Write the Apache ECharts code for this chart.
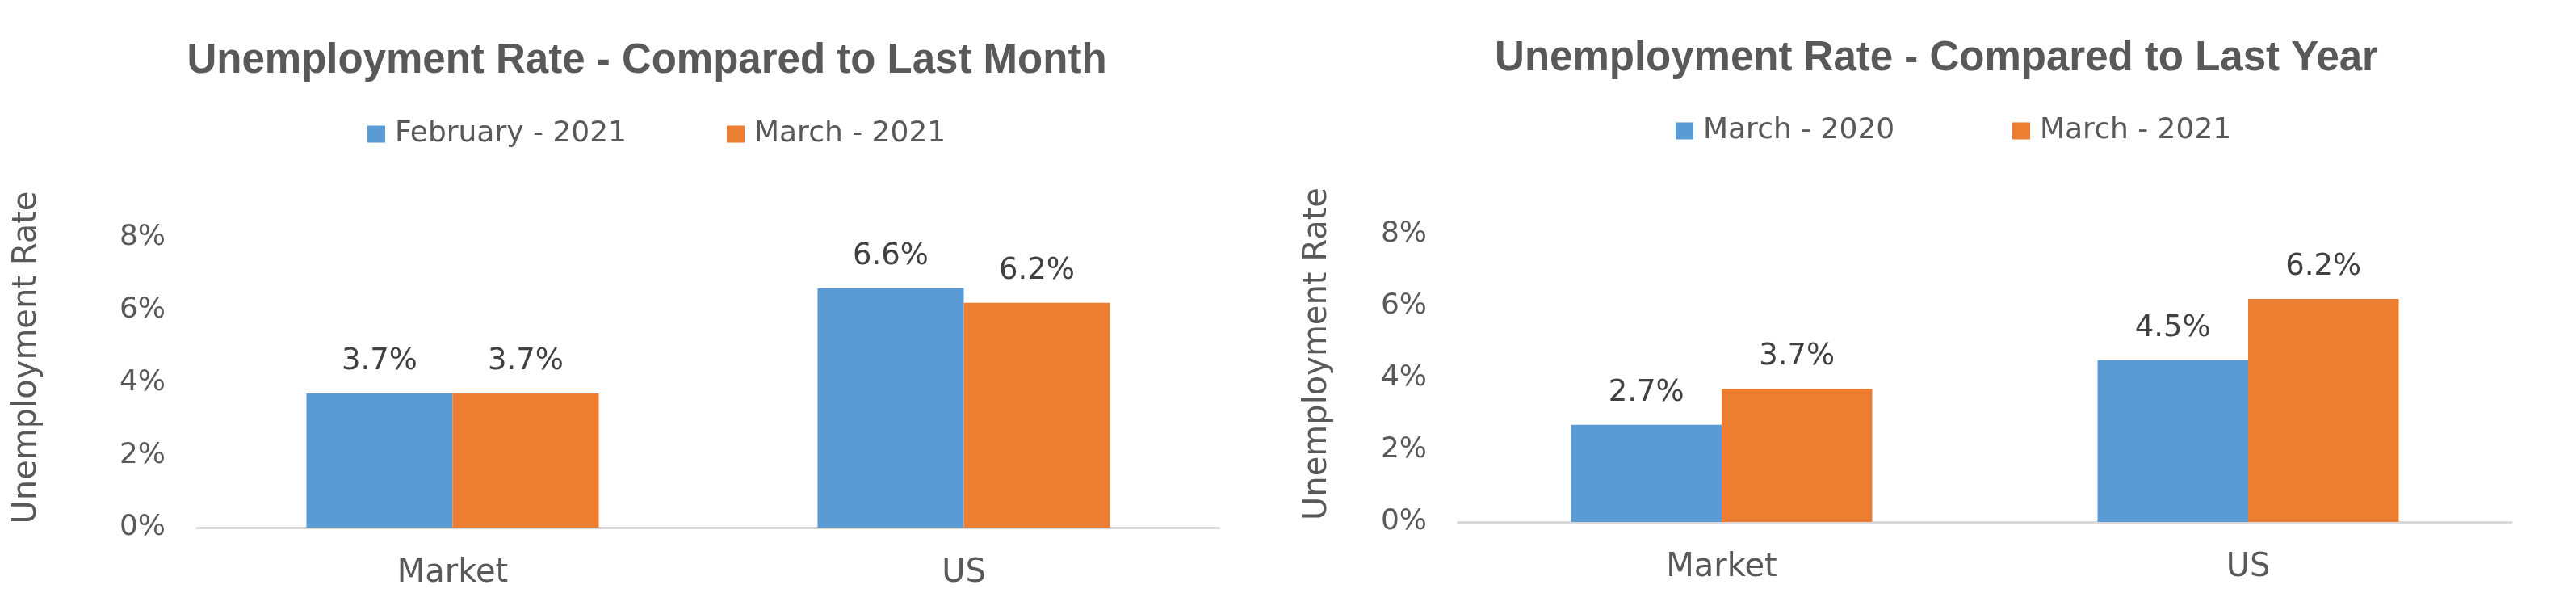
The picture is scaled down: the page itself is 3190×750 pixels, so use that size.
<!DOCTYPE html>
<html>
<head>
<meta charset="utf-8">
<style>
html,body{margin:0;padding:0;background:#fff;}
#c{width:3190px;height:750px;}
</style>
<script src="https://cdn.jsdelivr.net/npm/echarts@6/dist/echarts.min.js"></script>
</head>
<body>
<div id="c"></div>
<script>
const categories = ['Market', 'US'];
const monthSeriesNames = ['February - 2021', 'March - 2021'];
const monthPrev = [3.7, 6.6];
const monthCur = [3.7, 6.2];
const yearSeriesNames = ['March - 2020', 'March - 2021'];
const yearPrev = [2.7, 4.5];
const yearCur = [3.7, 6.2];
const titles = ['Unemployment Rate - Compared to Last Month', 'Unemployment Rate - Compared to Last Year'];
const yAxisTitle = 'Unemployment Rate';
const yMin = 0, yMax = 8, yStep = 2;

const BLUE = '#5B9BD5', ORANGE = '#ED7D31';
const TXT = '#595959', LBL = '#404040';
const FONT = '"DejaVu Sans", sans-serif';

function yAxis(gridIndex, gap, pad) {
  return {
    type: 'value', gridIndex: gridIndex, min: yMin, max: yMax, interval: yStep,
    name: yAxisTitle, nameLocation: 'middle', nameRotate: 90,
    nameGap: gap,
    nameTextStyle: {fontFamily: FONT, fontSize: 40, color: TXT, padding: [0, 0, 0, pad]},
    axisLine: {show: false}, axisTick: {show: false}, splitLine: {show: false},
    axisLabel: {formatter: '{value}%', fontFamily: FONT, fontSize: 36, color: TXT, margin: 39}
  };
}
function xAxis(gridIndex) {
  return {
    type: 'category', gridIndex: gridIndex, data: categories,
    axisLine: {lineStyle: {color: '#D9D9D9', width: 3}},
    axisTick: {show: false},
    axisLabel: {fontFamily: FONT, fontSize: 40, color: TXT, margin: 37}
  };
}
function bar(name, data, color, idx) {
  return {
    type: 'bar', name: name, data: data, xAxisIndex: idx, yAxisIndex: idx,
    itemStyle: {color: color}, barGap: '0%', barCategoryGap: '42.8%',
    label: {show: true, position: 'top', distance: 21, formatter: p => p.value.toFixed(1) + '%',
            fontFamily: FONT, fontSize: 37, color: LBL}
  };
}
function legend(name, left, top) {
  return {
    data: [name], left: left, top: top, padding: 0, icon: 'rect', itemWidth: 22, itemHeight: 21,
    textStyle: {fontFamily: FONT, fontSize: 36, color: TXT, padding: [0, 0, 0, 7]},
    selectedMode: false
  };
}

const chart = echarts.init(document.getElementById('c'), null, {renderer: 'canvas'});
chart.setOption({
  backgroundColor: '#fff',
  animation: false,
  title: [
    {text: titles[0], left: 796, top: 45, textAlign: 'center',
     textStyle: {fontFamily: '"Liberation Sans", Arial, sans-serif', fontWeight: 'bold', fontSize: 51, color: TXT}},
    {text: titles[1], left: 2393, top: 42, textAlign: 'center',
     textStyle: {fontFamily: '"Liberation Sans", Arial, sans-serif', fontWeight: 'bold', fontSize: 51, color: TXT}}
  ],
  legend: [
    legend(monthSeriesNames[0], 455, 148),
    legend(monthSeriesNames[1], 900, 148),
    legend(yearSeriesNames[0], 2075, 144),
    legend(yearSeriesNames[1], 2492, 144)
  ],
  grid: [
    {left: 244, top: 294, width: 1266, height: 359},
    {left: 1806, top: 290, width: 1304, height: 356}
  ],
  xAxis: [xAxis(0), xAxis(1)],
  yAxis: [yAxis(0, 190, 62), yAxis(1, 154, 60)],
  series: [
    bar(monthSeriesNames[0], monthPrev, BLUE, 0),
    bar(monthSeriesNames[1], monthCur, ORANGE, 0),
    bar(yearSeriesNames[0], yearPrev, BLUE, 1),
    bar(yearSeriesNames[1], yearCur, ORANGE, 1)
  ]
});
</script>
</body>
</html>
